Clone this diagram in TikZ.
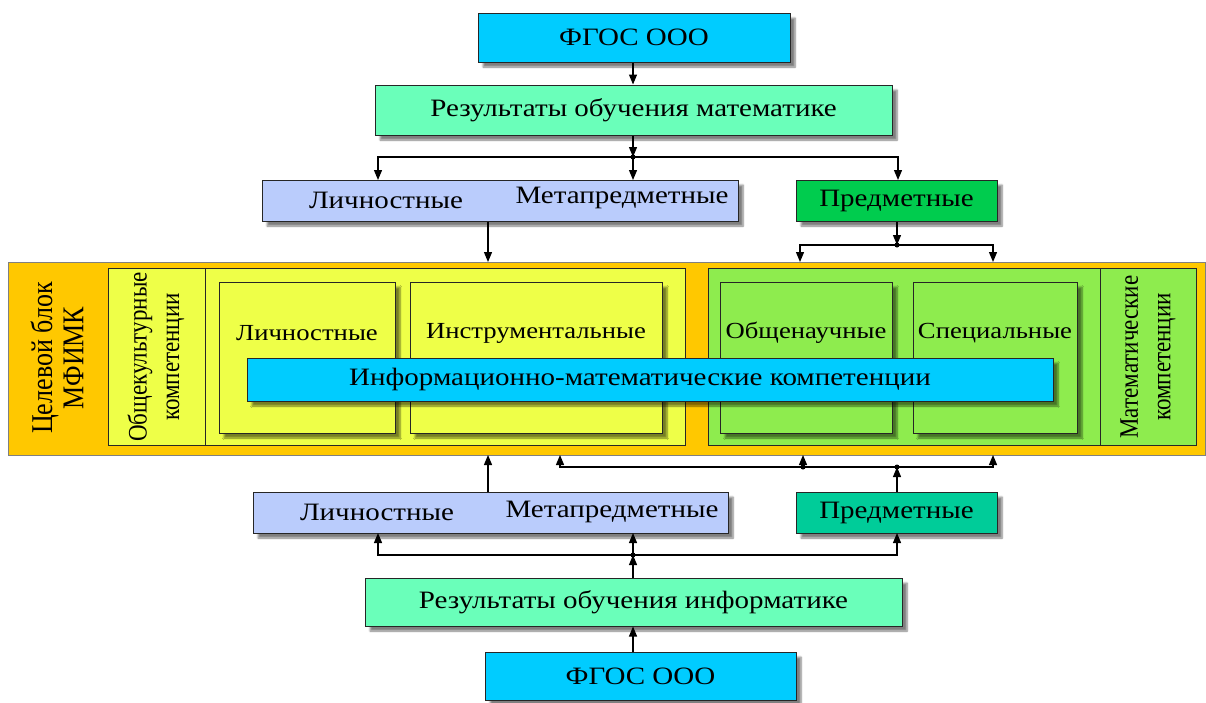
\documentclass[tikz,border=0pt]{standalone}
\usepackage{fontspec}
\setmainfont{Liberation Serif}
\newfontfamily\wideserif{Liberation Serif}[FakeStretch=1.16]
\usetikzlibrary{arrows.meta,shadows.blur}
\definecolor{cCyan}{HTML}{00CCFF}
\definecolor{cAqua}{HTML}{6AFFBA}
\definecolor{cLav}{HTML}{BACCFC}
\definecolor{cGreen}{HTML}{00CC4E}
\definecolor{cTeal}{HTML}{00CC99}
\definecolor{cOrange}{HTML}{FFC800}
\definecolor{cYellow}{HTML}{EEFF48}
\definecolor{cLGreen}{HTML}{8EEC4E}
\begin{document}
\begin{tikzpicture}[x=1pt,y=-1pt,
  base/.style={draw=black!85, line width=1pt, inner sep=0pt},
  box/.style={base, blur shadow={shadow xshift=5pt,shadow yshift=-5pt,shadow blur steps=6,shadow opacity=50}, font=\wideserif\fontsize{25}{28}\selectfont},
  lbl/.style={inner sep=0pt, font=\wideserif\fontsize{25}{28}\selectfont},
  ilbl/.style={inner sep=0pt, font=\wideserif\fontsize{23}{26}\selectfont},
  vlbl/.style={inner sep=0pt, xscale=1.16, rotate=90, align=center, font=\fontsize{23}{28}\selectfont},
  arr/.style={-{Triangle[length=10pt,width=8pt]}, line width=1.2pt},
  dot/.style={circle, fill=black, inner sep=0pt, minimum size=5pt}]
\useasboundingbox (0,0) rectangle (1206,702);
% ---------- top part ----------
\node[box, fill=cCyan, minimum width=312pt, minimum height=49pt] (f1) at (634,37.5) {ФГОС ООО};
\node[box, fill=cAqua, minimum width=517pt, minimum height=50pt] (res1) at (633.5,110) {Результаты обучения математике};
\node[box, fill=cLav, minimum width=476pt, minimum height=41pt] (lm1) at (500,200.5) {};
\node[lbl] (lm1a) at (386,200) {Личностные};
\node[lbl] (lm1b) at (622,198) {Метапредметные};
\node[box, fill=cGreen, minimum width=201pt, minimum height=41pt] (pr1) at (896.5,200.5) {Предметные};
% ---------- middle band ----------
\node[base, draw=black!50, fill=cOrange, minimum width=1197pt, minimum height=193pt] (band) at (606.5,358.5) {};
\node[base, fill=cYellow, minimum width=577pt, minimum height=177pt] (yb) at (396.5,356.5) {};
\draw[base] (205,268) -- (205,445);
\begin{scope}[shift={(156,357)}]
\node[vlbl] (ok) at (0,0) {Общекультурные\\компетенции};
\end{scope}
\node[base, fill=cLGreen, minimum width=488pt, minimum height=177pt] (gb) at (952,356.5) {};
\draw[base] (1100,268) -- (1100,445);
\begin{scope}[shift={(1148,357)}]
\node[vlbl] (mk) at (0,0) {Математические\\компетенции};
\end{scope}
\begin{scope}[shift={(57,358)}]
\node[vlbl, font=\fontsize{26}{27}\selectfont] (tb) at (0,0) {Целевой блок\\МФИМК};
\end{scope}
\node[box, fill=cYellow, minimum width=176pt, minimum height=151pt] (i1) at (307,357.5) {};
\node[box, fill=cYellow, minimum width=252pt, minimum height=151pt] (i2) at (536,357.5) {};
\node[box, fill=cLGreen, minimum width=172pt, minimum height=151pt] (i3) at (806,357.5) {};
\node[box, fill=cLGreen, minimum width=164pt, minimum height=151pt] (i4) at (995,357.5) {};
\node[ilbl] (t1) at (307,333) {Личностные};
\node[ilbl] (t2) at (536,333) {Инструментальные};
\node[ilbl] (t3) at (806,333) {Общенаучные};
\node[ilbl] (t4) at (995,333) {Специальные};
\node[box, fill=cCyan, minimum width=806pt, minimum height=43pt] (imk) at (650,379.5) {};
\node[lbl] (imkt) at (640,379) {Информационно-математические компетенции};
% ---------- bottom part ----------
\node[box, fill=cLav, minimum width=475pt, minimum height=41pt] (lm2) at (490.5,512.5) {};
\node[lbl] (lm2a) at (377,512) {Личностные};
\node[lbl] (lm2b) at (612,512) {Метапредметные};
\node[box, fill=cTeal, minimum width=201pt, minimum height=41pt] (pr2) at (896.5,512.5) {Предметные};
\node[box, fill=cAqua, minimum width=537pt, minimum height=48pt] (res2) at (633.5,602) {Результаты обучения информатике};
\node[box, fill=cCyan, minimum width=311pt, minimum height=48pt] (f2) at (640.5,676) {ФГОС ООО};
% ---------- coordinates ----------
\coordinate (j1) at (633,157);
\coordinate (a1) at (378,180);
\coordinate (a2) at (633,180);
\coordinate (a3) at (898,180);
\coordinate (b1) at (488,262);
\coordinate (j2) at (897,245);
\coordinate (b2) at (800,262);
\coordinate (b3) at (993,262);
\coordinate (c1) at (488,455);
\coordinate (c2) at (560,455);
\coordinate (c3) at (803,455);
\coordinate (c4) at (993,455);
\coordinate (j3) at (897,467);
\coordinate (j4) at (803,467);
\coordinate (j5) at (633,555);
\coordinate (d1) at (378,533);
\coordinate (d2) at (633,533);
\coordinate (d3) at (897,533);
% ---------- connectors top ----------
\draw[arr] (f1.south -| j1) -- (res1.north -| j1);
\draw[arr] (res1.south -| j1) -- (j1);
\draw[arr] (j1) -| (a1);
\draw[arr] (j1) -- (a2);
\draw[arr] (j1) -| (a3);
\node[dot] (dj1) at (j1) {};
\draw[arr] (lm1.south -| b1) -- (b1);
\draw[arr] (pr1.south -| j2) -- (j2);
\draw[arr] (j2) -| (b2);
\draw[arr] (j2) -| (b3);
\node[dot] (dj2) at (j2) {};
% ---------- connectors bottom ----------
\draw[arr] (lm2.north -| c1) -- (c1);
\draw[arr] (pr2.north -| j3) -- (j3);
\draw[arr] (j3) -| (c4);
\draw[arr] (j3) -| (c2);
\draw[arr] (j4) -- (c3);
\node[dot] (dj3) at (j3) {};
\node[dot] (dj4) at (j4) {};
\draw[arr] (res2.north -| j5) -- (j5);
\draw[arr] (j5) -| (d1);
\draw[arr] (j5) -- (d2);
\draw[arr] (j5) -| (d3);
\node[dot] (dj5) at (j5) {};
\draw[arr] (f2.north -| j5) -- (res2.south -| j5);
\end{tikzpicture}
\end{document}
